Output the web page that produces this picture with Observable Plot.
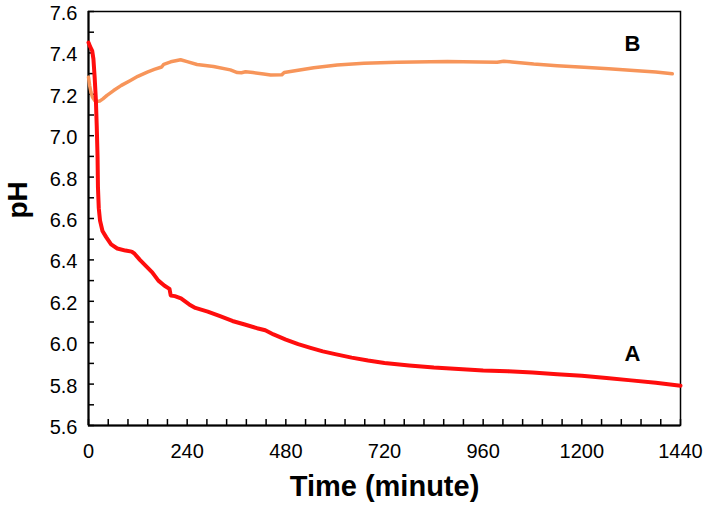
<!DOCTYPE html>
<html><head><meta charset="utf-8">
<script src="https://cdn.jsdelivr.net/npm/d3@7"></script>
<script src="https://cdn.jsdelivr.net/npm/@observablehq/plot@0.6"></script>
<style>body{margin:0;background:#fff}</style>
</head><body><div id="chart"></div>
<script>
// Curve A (red)
const timeA = [0, 4, 9, 12, 15, 18, 20, 22, 23, 25, 28, 34, 43, 55, 70, 90, 105, 112, 125, 140, 155, 170, 185, 197, 200, 210, 225, 245, 260, 290, 320, 350, 380, 410, 430, 450, 480, 510, 540, 570, 600, 640, 680, 720, 780, 840, 900, 960, 1020, 1080, 1140, 1200, 1260, 1320, 1380, 1440];
const phA   = [7.45, 7.43, 7.41, 7.37, 7.28, 7.17, 7.05, 6.90, 6.75, 6.65, 6.59, 6.54, 6.51, 6.475, 6.455, 6.445, 6.44, 6.43, 6.40, 6.37, 6.34, 6.30, 6.275, 6.26, 6.228, 6.225, 6.214, 6.185, 6.168, 6.15, 6.128, 6.105, 6.088, 6.07, 6.06, 6.04, 6.015, 5.993, 5.975, 5.958, 5.945, 5.928, 5.914, 5.902, 5.89, 5.88, 5.873, 5.866, 5.862, 5.856, 5.848, 5.84, 5.83, 5.818, 5.806, 5.792];
// Curve B (orange)
const timeB = [0, 3, 6, 10, 15, 20, 28, 35, 45, 61, 80, 102, 120, 143, 160, 178, 183, 200, 224, 240, 264, 304, 345, 362, 372, 382, 400, 426, 443, 470, 476, 510, 548, 605, 670, 751, 873, 950, 994, 1010, 1030, 1083, 1140, 1205, 1265, 1326, 1380, 1420];
const phB   = [7.283, 7.24, 7.21, 7.185, 7.17, 7.165, 7.168, 7.178, 7.195, 7.218, 7.243, 7.267, 7.287, 7.307, 7.32, 7.332, 7.345, 7.357, 7.367, 7.358, 7.344, 7.334, 7.318, 7.305, 7.304, 7.309, 7.305, 7.298, 7.293, 7.294, 7.305, 7.316, 7.328, 7.342, 7.35, 7.355, 7.358, 7.356, 7.355, 7.36, 7.356, 7.346, 7.338, 7.331, 7.323, 7.315, 7.308, 7.299];

const xTickLabels = [0, 240, 480, 720, 960, 1200, 1440];
const yTickLabels = [5.6, 5.8, 6.0, 6.2, 6.4, 6.6, 6.8, 7.0, 7.2, 7.4, 7.6];
const xMinorTicks = [0,48,96,144,192,240,288,336,384,432,480,528,576,624,672,720,768,816,864,912,960,1008,1056,1104,1152,1200,1248,1296,1344,1392,1440];
const yMinorTicks = [5.6,5.7,5.8,5.9,6.0,6.1,6.2,6.3,6.4,6.5,6.6,6.7,6.8,6.9,7.0,7.1,7.2,7.3,7.4,7.5,7.6];
const curveLabels = [{t: 1323, ph: 5.948, text: "A"}, {t: 1323, ph: 7.445, text: "B"}];

const dataA = timeA.map((t, i) => ({t, ph: phA[i]}));
const dataB = timeB.map((t, i) => ({t, ph: phB[i]}));

const W = 708, H = 514, ML = 88, MR = 28, MT = 11, MB = 89;
const xDomain = [0, 1440], yDomain = [5.6, 7.6];
// inward tick length of 6px, expressed in data units
const tickPx = 6;
const tickLenX = tickPx * (xDomain[1] - xDomain[0]) / (W - ML - MR);
const tickLenY = tickPx * (yDomain[1] - yDomain[0]) / (H - MT - MB);

const chart = Plot.plot({
  width: W, height: H,
  marginLeft: ML, marginRight: MR, marginTop: MT, marginBottom: MB,
  style: {fontFamily: "Liberation Sans, Arial, sans-serif", background: "white", color: "black"},
  x: {domain: xDomain},
  y: {domain: yDomain},
  marks: [
    Plot.ruleX(xMinorTicks, {x: d => d, y1: yDomain[0], y2: yDomain[0] + tickLenY, stroke: "black", strokeWidth: 1.5}),
    Plot.ruleY(yMinorTicks, {y: d => d, x1: xDomain[0], x2: xDomain[0] + tickLenX, stroke: "black", strokeWidth: 1.5}),
    Plot.axisX(xTickLabels, {tickSize: 0, tickPadding: 18, fontSize: 20, tickFormat: d3.format("d"), label: null}),
    Plot.axisY(yTickLabels, {tickSize: 0, tickPadding: 11, fontSize: 20, dy: 2, tickFormat: d3.format(".1f"), label: null}),
    Plot.frame({stroke: "black", strokeWidth: 1.5}),
    Plot.ruleX([0], {stroke: "black", strokeWidth: 2}),
    Plot.ruleY([5.6], {stroke: "black", strokeWidth: 2}),
    Plot.line(dataB, {x: "t", y: "ph", stroke: "#f7955a", strokeWidth: 3.5, strokeLinecap: "round", strokeLinejoin: "round"}),
    Plot.line(dataA, {x: "t", y: "ph", stroke: "#ff0d0d", strokeWidth: 4, strokeLinecap: "round", strokeLinejoin: "round"}),
    Plot.text(curveLabels, {x: "t", y: "ph", text: "text", fontSize: 22, fontWeight: "bold", fill: "black"}),
    Plot.text(["Time (minute)"], {text: d => d, frameAnchor: "bottom", dy: 70, fontSize: 29, fontWeight: "bold", fill: "black"}),
    Plot.text(["pH"], {text: d => d, frameAnchor: "left", dx: -70, rotate: -90, fontSize: 28, fontWeight: "bold", fill: "black"})
  ]
});
document.getElementById("chart").appendChild(chart);
</script>
</body></html>
